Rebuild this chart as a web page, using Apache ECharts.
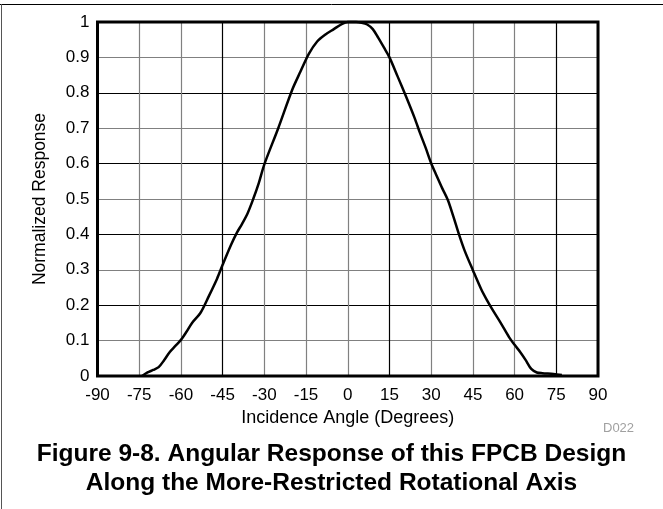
<!DOCTYPE html>
<html>
<head>
<meta charset="utf-8">
<script src="https://cdn.jsdelivr.net/npm/echarts@6/dist/echarts.min.js"></script>
<style>
html,body{margin:0;padding:0;background:#fff;}
#chart{width:663px;height:509px;}
</style>
</head>
<body>
<div id="chart"></div>
<script>
const angles = [-74,-72,-70,-68,-66,-64,-62,-60,-58,-56,-53,-50,-47,-45,-42,-40,-38,-36,-34,-32,-30,-25,-20,-17,-14,-11,-8,-5,-2,0,3,5,7,9,11,13,15,18,21,24,26,28,30,32,34,36,38,40,42,45,48,50,52,55,58,60,62,64,66,68,70,74,77];
const response = [0.0,0.01,0.017,0.025,0.045,0.068,0.085,0.102,0.125,0.15,0.178,0.225,0.275,0.314,0.37,0.403,0.43,0.46,0.5,0.545,0.598,0.70,0.808,0.86,0.91,0.945,0.965,0.98,0.995,1.0,1.0,0.998,0.993,0.98,0.955,0.928,0.9,0.845,0.789,0.73,0.686,0.645,0.601,0.565,0.53,0.497,0.45,0.40,0.355,0.299,0.245,0.215,0.188,0.15,0.11,0.088,0.068,0.045,0.02,0.01,0.008,0.006,0.003];
const xTicks = [-90,-75,-60,-45,-30,-15,0,15,30,45,60,75,90];
const yTicks = [0,0.1,0.2,0.3,0.4,0.5,0.6,0.7,0.8,0.9,1];

const chart = echarts.init(document.getElementById('chart'), null, {renderer:'canvas'});
const font = 'Liberation Sans, Arial, sans-serif';
chart.setOption({
  animation: false,
  backgroundColor: '#fff',
  grid: {left: 97.5, right: 65, top: 22, bottom: 133, show: true, borderColor: '#000', borderWidth: 3, backgroundColor: 'transparent', z: 3},
  xAxis: {
    type: 'value', min: -90, max: 90, interval: 15,
    name: 'Incidence Angle (Degrees)', nameLocation: 'middle', nameGap: 31,
    nameTextStyle: {fontFamily: font, fontSize: 18, color: '#000'},
    axisLine: {show: false}, axisTick: {show: false},
    axisLabel: {fontFamily: font, fontSize: 17, color: '#000', margin: 11,
      formatter: v => xTicks.includes(v) ? String(v) : ''},
    splitLine: {show: true, lineStyle: {color: ['#808080','#808080','#808080','#000'], width: 1.2}}
  },
  yAxis: {
    type: 'value', min: 0, max: 1, interval: 0.1,
    name: 'Normalized Response', nameLocation: 'middle', nameGap: 48,
    nameTextStyle: {fontFamily: font, fontSize: 17.5, color: '#000'},
    axisLine: {show: false}, axisTick: {show: false},
    axisLabel: {fontFamily: font, fontSize: 17, color: '#000', margin: 8,
      formatter: v => { const t = yTicks.find(k => Math.abs(k - v) < 1e-9); return t === undefined ? '' : String(t); }},
    splitLine: {show: true, lineStyle: {color: ['#000','#808080'], width: 1.2}}
  },
  series: [{
    type: 'line', data: angles.map((a, i) => [a, response[i]]),
    smooth: 0.3, showSymbol: false, clip: false,
    lineStyle: {color: '#000', width: 2.5}, z: 2
  }],
  graphic: [
    {type: 'line', shape: {x1: 0, y1: 4.5, x2: 663, y2: 4.5}, style: {stroke: '#000', lineWidth: 1}},
    {type: 'line', shape: {x1: 1.5, y1: 4, x2: 1.5, y2: 509}, style: {stroke: '#555', lineWidth: 1}},
    {type: 'text', x: 603, y: 422, style: {text: 'D022', fontFamily: font, fontSize: 13, fill: '#a0a0a0'}},
    {type: 'text', x: 331.5, y: 440, style: {text: 'Figure 9-8. Angular Response of this FPCB Design\nAlong the More-Restricted Rotational Axis', fontFamily: font, fontSize: 24.5, fontWeight: 'bold', fill: '#000', align: 'center', lineHeight: 29}}
  ]
});
</script>
</body>
</html>
